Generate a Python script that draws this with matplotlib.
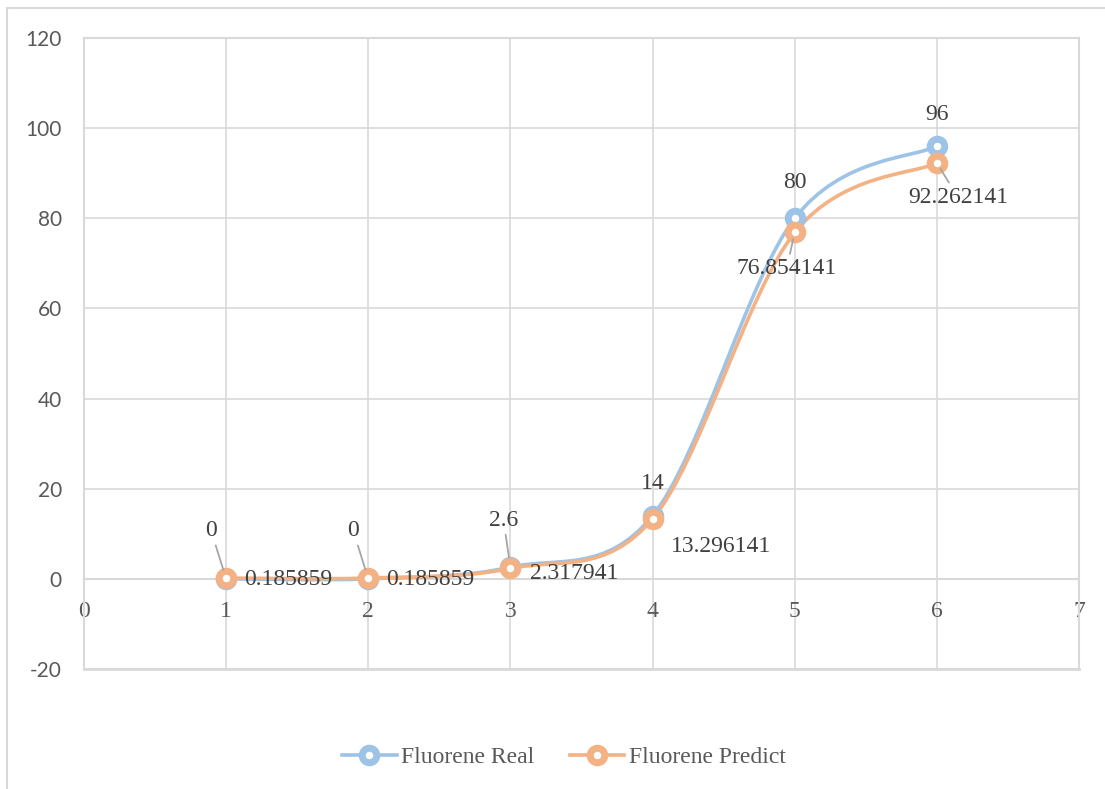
import numpy as np
import matplotlib.pyplot as plt
from matplotlib.path import Path
from matplotlib.patches import PathPatch, Rectangle
from matplotlib.lines import Line2D

x = [1, 2, 3, 4, 5, 6]
real = [0, 0, 2.6, 14, 80, 96]
predict = [0.185859, 0.185859, 2.317941, 13.296141, 76.854141, 92.262141]
real_labels = ["0", "0", "2.6", "14", "80", "96"]
predict_labels = ["0.185859", "0.185859", "2.317941", "13.296141", "76.854141", "92.262141"]

BLUE = "#9dc3e6"
ORANGE = "#f4b183"
GRID = "#d9d9d9"
SERIF = "Liberation Serif"

plt.rcParams["font.family"] = SERIF
plt.rcParams["axes.unicode_minus"] = False


def smooth_path(xs, ys, t=1 / 6):
    # cubic bezier through the points, spreadsheet style smoothing
    p = np.column_stack([xs, ys]).astype(float)
    ext = np.vstack([p[0], p, p[-1]])
    verts = [tuple(p[0])]
    codes = [Path.MOVETO]
    for i in range(len(p) - 1):
        a, b, c, d = ext[i], ext[i + 1], ext[i + 2], ext[i + 3]
        c1 = b + (c - a) * t
        c2 = c - (d - b) * t
        verts += [tuple(c1), tuple(c2), tuple(c)]
        codes += [Path.CURVE4] * 3
    return Path(verts, codes)


fig = plt.figure(figsize=(11.05, 7.89), dpi=100)
ax = fig.add_axes([84 / 1105, 1 - 669 / 789, 995 / 1105, 631 / 789])

for ys, col in [(real, BLUE), (predict, ORANGE)]:
    ax.add_patch(PathPatch(smooth_path(x, ys), fill=False, edgecolor=col,
                           lw=2.6, capstyle="round", zorder=3))
for ys, col in [(real, BLUE), (predict, ORANGE)]:
    ax.plot(x, ys, ls="none", marker="o", ms=10.5, mew=5, mec=col, mfc="white",
            zorder=4)

ax.set_xlim(0, 7)
ax.set_ylim(-20, 120)
ax.set_xticks(range(0, 8))
ax.set_yticks(range(-20, 121, 20))
ax.grid(True, color=GRID, lw=1.2)
ax.set_axisbelow(True)
for s in ["left", "right", "top"]:
    ax.spines[s].set_color(GRID)
    ax.spines[s].set_linewidth(1.5)
ax.spines["bottom"].set_position(("data", 0))
ax.spines["bottom"].set_color(GRID)
ax.spines["bottom"].set_linewidth(1.5)
ax.axhline(-20, color=GRID, lw=2, zorder=1, clip_on=False)
ax.tick_params(axis="both", length=0)
ax.tick_params(axis="x", pad=16, labelsize=17, labelcolor="#595959")
ax.tick_params(axis="y", pad=16, labelsize=15, labelcolor="#595959")
for lab in ax.get_yticklabels():
    lab.set_fontfamily("Lato")

# data labels for the measured series
real_off = [(-15, 48), (-15, 48), (-7, 47), (0, 32), (0, 36), (0, 32)]
real_lead = [True, True, True, False, False, False]
for xi, yi, txt, off, lead in zip(x, real, real_labels, real_off, real_lead):
    ax.annotate(txt, (xi, yi), xytext=off, textcoords="offset pixels",
                ha="center", va="center", fontsize=17, color="#404040",
                arrowprops=dict(arrowstyle="-", color="#a6a6a6", lw=1.3,
                                shrinkA=1, shrinkB=7) if lead else None,
                zorder=5)

# data labels for the predicted series
pred_off = [(18, -1), (18, -1), (20, -5), (18, -28), (-8, -36), (21, -34)]
pred_ha = ["left", "left", "left", "left", "center", "center"]
pred_lead = [False, False, False, False, True, True]
for xi, yi, txt, off, ha, lead in zip(x, predict, predict_labels, pred_off,
                                      pred_ha, pred_lead):
    ax.annotate(txt, (xi, yi), xytext=off, textcoords="offset pixels",
                ha=ha, va="center", fontsize=17, color="#404040",
                arrowprops=dict(arrowstyle="-", color="#a6a6a6", lw=1.3,
                                shrinkA=1, shrinkB=5) if lead else None,
                zorder=5)

handles = [
    Line2D([], [], color=c, lw=2.6, marker="o", ms=10.5, mew=5, mec=c, mfc="white")
    for c in (BLUE, ORANGE)
]
fig.legend(handles, ["Fluorene Real", "Fluorene Predict"], loc="center",
           bbox_to_anchor=(564 / 1105, 1 - 757 / 789), ncol=2, frameon=False,
           fontsize=17, handlelength=2.3, handletextpad=0.2, columnspacing=1.5,
           labelcolor="#595959")

fig.add_artist(Rectangle((7 / 1105, -0.1), 1.2, 1.1 - 8 / 789, fill=False,
                         edgecolor=GRID, lw=1.5, transform=fig.transFigure))

fig.savefig("out.png", dpi=100)
